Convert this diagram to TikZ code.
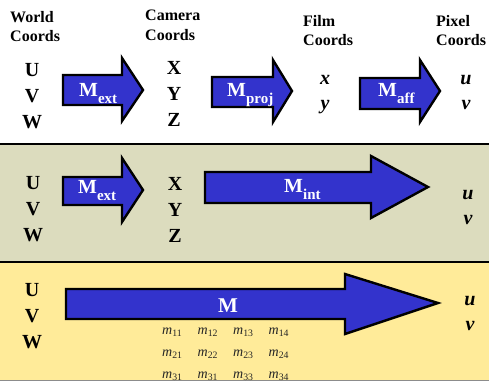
\documentclass[tikz,border=0pt]{standalone}
\usepackage{fontspec}
\setmainfont{Liberation Serif}
\definecolor{arrowblue}{HTML}{3333CC}
\definecolor{sage}{HTML}{DCDCBE}
\definecolor{butter}{HTML}{FFEB99}
\newcommand{\msub}[1]{\raisebox{-7pt}{\fontsize{15}{15}\selectfont #1}}

\begin{document}
\begin{tikzpicture}[
    x=1pt, y=-1pt,
    barrow/.style={draw=black, line width=2.4pt, fill=arrowblue, line join=miter},
    panel/.style={fill=#1, draw=none},
    rule/.style={line width=2.5pt, draw=black},
    head/.style={font=\fontsize{16}{19.5}\selectfont\bfseries, align=left, anchor=north west, inner sep=0pt},
    coord/.style={font=\fontsize{20}{26}\selectfont\bfseries, align=center, anchor=north, inner sep=0pt},
    var/.style={font=\fontsize{20}{25}\selectfont\bfseries\itshape, align=center, anchor=north, inner sep=0pt},
    mlabel/.style={font=\fontsize{20}{20}\selectfont\bfseries, text=white, anchor=base west, inner sep=0pt},
    mij/.style={font=\fontsize{14}{14}\selectfont\itshape, text=black!85, anchor=base west, inner sep=0pt},
]
\useasboundingbox (0,0) rectangle (489,381);
\clip (0,0) rectangle (489,381);

% ── Panel backgrounds ──
\fill[panel=white] (0,0) rectangle (489,144);
\fill[panel=sage] (0,144) rectangle (489,262);
\fill[panel=butter] (0,262) rectangle (489,381);
\draw[rule] (0,144) -- (489,144);
\draw[rule] (0,262) -- (489,262);
\draw[line width=1.5pt, black!45] (0,380.5) -- (489,380.5);

% ── Panel 1: full chain ──
\node[head] (hworld) at (10,11) {World\\Coords};
\node[head] (hcamera) at (145,10) {Camera\\Coords};
\node[head] (hfilm) at (303,15) {Film\\Coords};
\node[head] (hpixel) at (436,15) {Pixel\\Coords};

\node[coord] (uvwA) at (32,63) {U\\V\\W};
\node[coord] (xyzA) at (174,61) {X\\Y\\Z};
\node[var] (xyA) at (325,75) {x\\y};
\node[var] (uvA) at (466,75) {u\\v};

\draw[barrow] (63,75) -- (122,75) -- (122,58) -- (143,90) -- (122,121)
    -- (122,105) -- (63,105) -- cycle;
\draw[barrow] (212,77) -- (273,77) -- (273,60) -- (292,91) -- (273,122)
    -- (273,107) -- (212,107) -- cycle;
\draw[barrow] (360,78) -- (420,78) -- (420,60) -- (440,91) -- (420,122)
    -- (420,109) -- (360,109) -- cycle;

\node[mlabel] (mextA) at (79,96) {M\msub{ext}};
\node[mlabel] (mproj) at (227,96) {M\msub{proj}};
\node[mlabel] (maff) at (378,96) {M\msub{aff}};

% ── Panel 2: extrinsic + intrinsic ──
\node[coord] (uvwB) at (33,176) {U\\V\\W};
\node[coord] (xyzB) at (175,177) {X\\Y\\Z};
\node[var] (uvB) at (468,190) {u\\v};

\draw[barrow] (63,177) -- (122,177) -- (122,158) -- (143,190) -- (122,222)
    -- (122,205) -- (63,205) -- cycle;
\draw[barrow] (205,172) -- (371,172) -- (371,156) -- (428,187) -- (371,218)
    -- (371,203) -- (205,203) -- cycle;

\node[mlabel] (mextB) at (78,193) {M\msub{ext}};
\node[mlabel] (mint) at (284,192) {M\msub{int}};

% ── Panel 3: single matrix ──
\node[coord] (uvwC) at (32,283) {U\\V\\W};
\node[var] (uvC) at (470,296) {u\\v};

\draw[barrow] (66,289) -- (345,289) -- (345,274) -- (438,303) -- (345,334)
    -- (345,319) -- (66,319) -- cycle;
\node[mlabel, font=\fontsize{21}{21}\selectfont\bfseries] (mfull) at (218,312) {M};

% matrix entries (as printed)
\foreach \i/\row in {0/{11,12,13,14}, 1/{21,22,23,24}, 2/{31,31,33,34}}
    \foreach \k [count=\j from 0] in \row
        \node[mij] (m\i\j) at (162+35.5*\j, 334+22*\i) {m\textsubscript{\upshape\k}};

\end{tikzpicture}
\end{document}
